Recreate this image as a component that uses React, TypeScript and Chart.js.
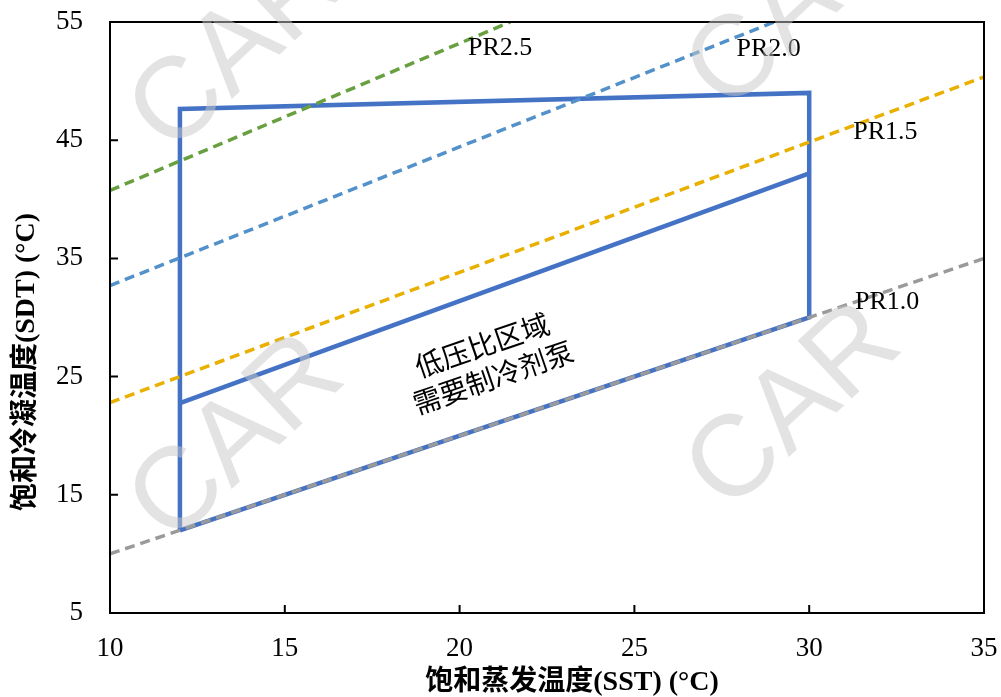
import React, { useEffect, useRef } from 'react';
import { Chart, registerables } from 'chart.js';

Chart.register(...registerables);

// ---- data ----
const xTicks = [10, 15, 20, 25, 30, 35];
const yTicks = [5, 15, 25, 35, 45, 55];

const envelopeSST = [12, 12, 30, 30, 12];
const envelopeSDT = [12, 47.65, 49, 30, 12];
const innerSST = [12, 30];
const innerSDT = [22.75, 42.2];

const pr10SST = [10, 35];
const pr10SDT = [10, 35];
const pr15SST = [10, 35];
const pr15SDT = [22.8, 50.35];
const pr20SST = [10, 29.0];
const pr20SDT = [32.7, 55];
const pr25SST = [10, 21.45];
const pr25SDT = [40.75, 55];

const prLabels = ['PR2.5', 'PR2.0', 'PR1.5', 'PR1.0'];
const prLabelSST = [21.16, 28.84, 32.18, 32.23];
const prLabelSDT = [52.8, 52.72, 45.69, 31.31];

const regionLines = ['低压比区域', '需要制冷剂泵'];
const regionSST = 20.8;
const regionSDT = 26.3;

const xTitle = '饱和蒸发温度(SST) (°C)';
const yTitle = '饱和冷凝温度(SDT) (°C)';
const watermark = 'CAR';

const pts = (xs: number[], ys: number[]) => xs.map((v, i) => ({ x: v, y: ys[i] }));

const SERIF = "'Liberation Serif', 'Times New Roman', 'Noto Sans CJK SC', serif";

const overlayPlugin = {
  id: 'overlay',
  afterDatasetsDraw(chart: any) {
    const { ctx, chartArea: a, scales } = chart;
    const x = scales.x;
    const y = scales.y;
    ctx.save();
    // frame
    ctx.strokeStyle = '#000';
    ctx.lineWidth = 2;
    ctx.strokeRect(a.left, a.top, a.right - a.left, a.bottom - a.top);
    // inward tick marks
    ctx.beginPath();
    xTicks.forEach((v) => {
      const px = x.getPixelForValue(v);
      ctx.moveTo(px, a.bottom);
      ctx.lineTo(px, a.bottom - 8);
    });
    yTicks.forEach((v) => {
      const py = y.getPixelForValue(v);
      ctx.moveTo(a.left, py);
      ctx.lineTo(a.left + 8, py);
    });
    ctx.stroke();

    // PR labels
    ctx.fillStyle = '#000';
    ctx.font = `26px ${SERIF}`;
    ctx.textAlign = 'center';
    ctx.textBaseline = 'middle';
    prLabels.forEach((t, i) => {
      ctx.fillText(t, x.getPixelForValue(prLabelSST[i]), y.getPixelForValue(prLabelSDT[i]));
    });

    // region annotation
    ctx.save();
    ctx.translate(x.getPixelForValue(regionSST), y.getPixelForValue(regionSDT));
    ctx.rotate((-19 * Math.PI) / 180);
    ctx.font = "28px 'Noto Sans CJK SC', sans-serif";
    regionLines.forEach((t, i) => {
      ctx.fillText(t, 0, (i - (regionLines.length - 1) / 2) * 34);
    });
    ctx.restore();

    // axis titles
    ctx.font = `bold 28px ${SERIF}`;
    ctx.fillText(xTitle, 572, 683);
    ctx.save();
    ctx.translate(27, 362);
    ctx.rotate(-Math.PI / 2);
    ctx.fillText(yTitle, 0, 0);
    ctx.restore();
    ctx.restore();
  },
  afterDraw(chart: any) {
    const { ctx } = chart;
    ctx.save();
    ctx.fillStyle = 'rgba(200,200,200,0.5)';
    ctx.font = "115px 'Liberation Sans', Arial, sans-serif";
    ctx.textAlign = 'center';
    ctx.textBaseline = 'middle';
    const spots = [
      [238, 50],
      [238, 440],
      [795, 8],
      [795, 408],
    ];
    spots.forEach(([cx, cy]) => {
      ctx.save();
      ctx.translate(cx, cy);
      ctx.rotate((-43 * Math.PI) / 180);
      ctx.fillText(watermark, 0, 0);
      ctx.restore();
    });
    ctx.restore();
  },
};

const dashed = (label: string, data: any[], color: string) => ({
  label,
  data,
  showLine: true,
  borderColor: color,
  backgroundColor: color,
  borderWidth: 3.5,
  borderDash: [10, 6],
  pointRadius: 0,
  fill: false,
  order: 1,
});

export default function App() {
  const ref = useRef<HTMLCanvasElement | null>(null);
  useEffect(() => {
    if (!ref.current) return;
    const chart = new Chart(ref.current, {
      type: 'scatter',
      data: {
        datasets: [
          dashed('PR1.0', pts(pr10SST, pr10SDT), '#9a9a9a'),
          dashed('PR1.5', pts(pr15SST, pr15SDT), '#E9B000'),
          dashed('PR2.0', pts(pr20SST, pr20SDT), '#5291CA'),
          dashed('PR2.5', pts(pr25SST, pr25SDT), '#68A040'),
          {
            label: 'envelope',
            data: pts(envelopeSST, envelopeSDT),
            showLine: true,
            borderColor: '#4472C4',
            backgroundColor: '#4472C4',
            borderWidth: 4.5,
            borderJoinStyle: 'miter',
            pointRadius: 0,
            fill: false,
            order: 5,
          },
          {
            label: 'inner',
            data: pts(innerSST, innerSDT),
            showLine: true,
            borderColor: '#4472C4',
            backgroundColor: '#4472C4',
            borderWidth: 4.5,
            pointRadius: 0,
            fill: false,
            order: 5,
          },
        ],
      },
      options: {
        animation: false,
        responsive: false,
        layout: { padding: { top: 22, right: 17, left: 0, bottom: 0 } },
        plugins: {
          legend: { display: false },
          tooltip: { enabled: false },
          title: { display: false },
        },
        scales: {
          x: {
            type: 'linear',
            min: 10,
            max: 35,
            grid: { display: false, drawTicks: false },
            border: { display: false },
            afterBuildTicks: (s: any) => {
              s.ticks = xTicks.map((v) => ({ value: v }));
            },
            afterFit: (s: any) => {
              s.height = 84;
              s.paddingLeft = 0;
              s.paddingRight = 0;
            },
            ticks: {
              padding: 20,
              color: '#000',
              font: { family: SERIF, size: 27 },
              maxRotation: 0,
            },
          },
          y: {
            type: 'linear',
            min: 5,
            max: 55,
            grid: { display: false, drawTicks: false },
            border: { display: false },
            afterBuildTicks: (s: any) => {
              s.ticks = yTicks.map((v) => ({ value: v }));
            },
            afterFit: (s: any) => {
              s.width = 110;
              s.paddingTop = 0;
              s.paddingBottom = 0;
            },
            ticks: {
              padding: 27,
              color: '#000',
              font: { family: SERIF, size: 27 },
            },
          },
        },
      },
      plugins: [overlayPlugin],
    } as any);
    return () => chart.destroy();
  }, []);
  return (
    <div style={{ position: 'fixed', left: 0, top: 0, width: 1001, height: 697, background: '#fff' }}>
      <canvas ref={ref} width={1001} height={697} style={{ display: 'block' }} />
    </div>
  );
}
